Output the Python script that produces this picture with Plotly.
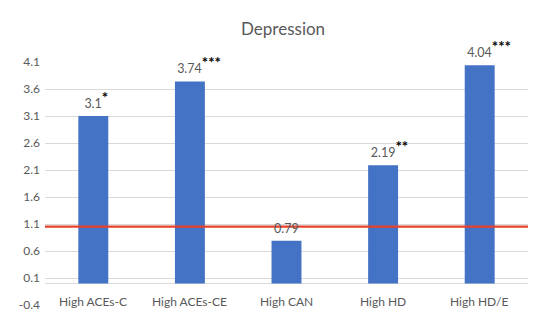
import plotly.graph_objects as go

categories = ["High ACEs-C", "High ACEs-CE", "High CAN", "High HD", "High HD/E"]
values = [3.1, 3.74, 0.79, 2.19, 4.04]
stars = ["*", "***", "", "**", "***"]
ref_value = 1.05
tick_vals = [-0.4, 0.1, 0.6, 1.1, 1.6, 2.1, 2.6, 3.1, 3.6, 4.1]
tick_text = ["-0.4", "0.1", "0.6", "1.1", "1.6", "2.1", "2.6", "3.1", "3.6", "4.1"]

FONT = "Lato, 'Open Sans', sans-serif"
GRAY = "#595959"

fig = go.Figure()
fig.add_trace(go.Bar(
    x=categories, y=values, width=0.31,
    marker=dict(color="#4472C4", line=dict(width=0)),
    showlegend=False, hoverinfo="skip",
))

for c, v, s in zip(categories, values, stars):
    txt = f"{v:g}"
    if s:
        star = f"<sup><b><span style='font-size:15px'>{s}</span></b></sup>"
        txt = (f"<span style='color:rgba(0,0,0,0)'>{star}</span>"
               f"{txt}<span style='color:#000'>{star}</span>")
    fig.add_annotation(x=c, y=v, text=txt, showarrow=False, yanchor="bottom",
                       yshift=3, font=dict(family=FONT, size=12.5, color=GRAY))

for c in categories:
    fig.add_annotation(x=c, y=0, text=c, showarrow=False, yanchor="top", yshift=-9,
                       font=dict(family=FONT, size=12, color=GRAY))

fig.add_shape(type="line", xref="paper", x0=0, x1=1, yref="y", y0=ref_value, y1=ref_value,
              line=dict(color="#E8402A", width=2.2))

fig.update_layout(
    width=529, height=312,
    margin=dict(l=37, r=9, t=54, b=15),
    paper_bgcolor="white", plot_bgcolor="white",
    title=dict(text="Depression", x=0.52, xanchor="center", y=0.933, yanchor="middle",
               font=dict(family=FONT, size=17, color=GRAY)),
    xaxis=dict(showgrid=False, showline=False, ticks="", showticklabels=False,
               fixedrange=True),
    yaxis=dict(range=[-0.4, 4.1], tickvals=tick_vals, ticktext=tick_text,
               showgrid=True, gridcolor="#D9D9D9", gridwidth=1,
               zeroline=True, zerolinecolor="#D9D9D9", zerolinewidth=1,
               tickfont=dict(family=FONT, size=12, color=GRAY), ticklabelstandoff=4),
    bargap=0.69,
)
fig.update_traces(cliponaxis=False)

fig.write_html("out.html")
